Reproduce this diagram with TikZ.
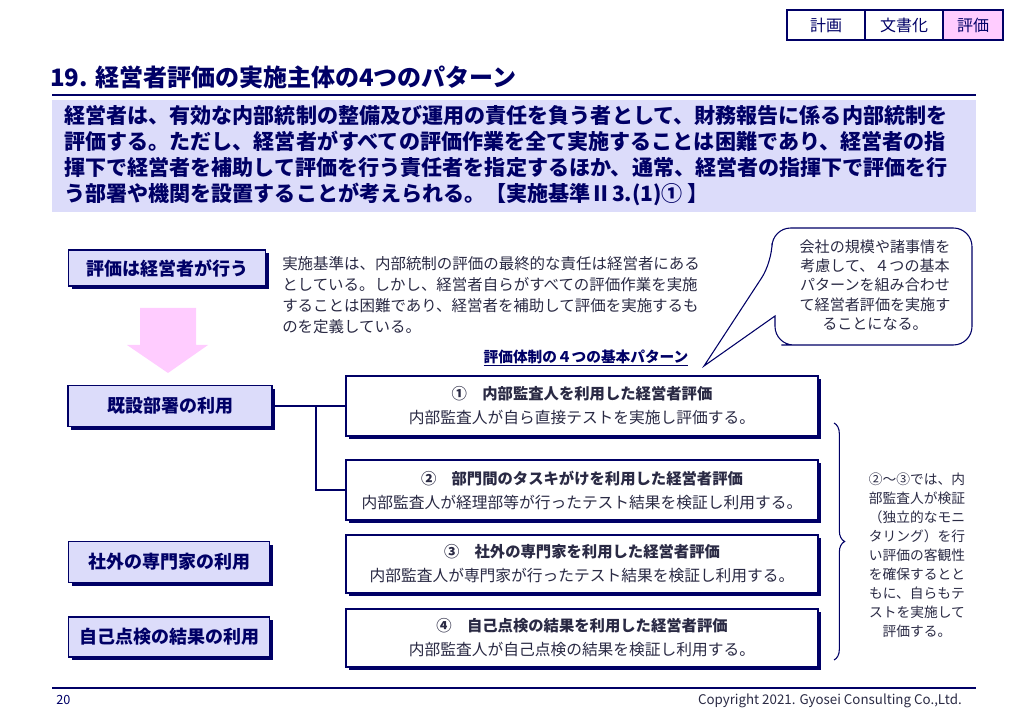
\documentclass[tikz,border=0pt]{standalone}
\usepackage{fontspec}
\setmainfont{Noto Sans CJK JP}
\usetikzlibrary{positioning,shadows,decorations.pathreplacing}
\definecolor{navy}{HTML}{000066}
\definecolor{lav}{HTML}{DCDCFA}
\definecolor{tink}{HTML}{FFCCFF}
\definecolor{txt}{HTML}{2A2A44}
\newcommand{\fs}[1]{\fontsize{#1}{1.35\dimexpr#1pt\relax}\selectfont}
\tikzset{
  sbox/.style={draw=navy, thick, fill=lav, text=navy, font=\fs{13.5}\bfseries,
    drop shadow={shadow xshift=2.5pt, shadow yshift=-2.5pt, fill=navy, opacity=1}},
  pbox/.style={draw=navy, thick, fill=white, align=center, text=txt,
    minimum width=354pt, minimum height=#1,
    drop shadow={shadow xshift=2.5pt, shadow yshift=-2.5pt, fill=navy, opacity=1}},
  tab/.style={draw=navy, thick, minimum height=22.5pt, font=\fs{12}, text=navy},
}
\begin{document}
\begin{tikzpicture}[x=0.75pt, y=-0.75pt]
\useasboundingbox (0,0) rectangle (1024,712);
% tabs
\node[tab, minimum width=58.5pt] (plan) at (826,25) {計画};
\node[tab, minimum width=58.5pt] (doc) at (904,25) {文書化};
\node[tab, minimum width=45pt, fill=tink] (eval) at (973,25) {評価};
% title
\node[anchor=west, text=navy, font=\fs{18}\bfseries, inner sep=0] (title) at (50,77) {19. 経営者評価の実施主体の4つのパターン};
\draw[navy, line width=2pt] (52,95) -- (976,95);
\fill[lav] (52,100) rectangle (976,212);
\node[anchor=north west, text=navy, font=\fontsize{15.8}{19.5}\selectfont\bfseries, align=left, inner sep=0] (lead) at (64,105)
  {経営者は、有効な内部統制の整備及び運用の責任を負う者として、財務報告に係る内部統制を\\
   評価する。ただし、経営者がすべての評価作業を全て実施することは困難であり、経営者の指\\
   揮下で経営者を補助して評価を行う責任者を指定するほか、通常、経営者の指揮下で評価を行\\
   う部署や機関を設置することが考えられる。【実施基準Ⅱ3.(1)① 】};
% left column
\node[sbox, minimum width=148pt, minimum height=27pt] (mgr) at (167,268) {評価は経営者が行う};
\node[anchor=north west, inner sep=0, align=left, text=txt, font=\fontsize{11.6}{15.8}\selectfont] (note) at (282,256)
  {実施基準は、内部統制の評価の最終的な責任は経営者にある\\
   としている。しかし、経営者自らがすべての評価作業を実施\\
   することは困難であり、経営者を補助して評価を実施するも\\
   のを定義している。};
\fill[tink] (140,308) -- (196,308) -- (196,345) -- (208,345) -- (168,373) -- (127,345) -- (140,345) -- cycle;
\node[sbox, minimum width=153pt, minimum height=31pt] (exist) at (170,406) {既設部署の利用};
\node[sbox, minimum width=151pt, minimum height=31pt] (expert) at (169,562) {社外の専門家の利用};
\node[sbox, minimum width=151pt, minimum height=30pt] (self) at (169,637) {自己点検の結果の利用};
% patterns
\node[font=\fs{11}\bfseries, text=navy, inner sep=1pt] (head) at (586,358) {\underline{評価体制の４つの基本パターン}};
\node[pbox=45pt] (p1) at (582,406) {{\fs{11.5}\bfseries ①\quad 内部監査人を利用した経営者評価}\\[6pt]{\fs{11.8}内部監査人が自ら直接テストを実施し評価する。}};
\node[pbox=45pt] (p2) at (582,490) {{\fs{11.5}\bfseries ②\quad 部門間のタスキがけを利用した経営者評価}\\[6pt]{\fs{11.8}内部監査人が経理部等が行ったテスト結果を検証し利用する。}};
\node[pbox=43.5pt] (p3) at (582,564) {{\fs{11.5}\bfseries ③\quad 社外の専門家を利用した経営者評価}\\[6pt]{\fs{11.8}内部監査人が専門家が行ったテスト結果を検証し利用する。}};
\node[pbox=43.5pt] (p4) at (582,638) {{\fs{11.5}\bfseries ④\quad 自己点検の結果を利用した経営者評価}\\[6pt]{\fs{11.8}内部監査人が自己点検の結果を検証し利用する。}};
\draw[navy, thick] (exist.east) -- (p1.west);
\draw[navy, thick] (316,406) |- (p2.west);
% callout
\draw[navy, thick, fill=white, rounded corners=14pt] (800,345) -- (972,345) -- (972,228) -- (772,228) -- (772,262)
  [sharp corners] -- (704,366) -- (775,316) [rounded corners=14pt] -- (775,345) -- cycle;
\node[align=center, text=txt, font=\fontsize{11.3}{14.4}\selectfont, inner sep=0] (bubble) at (875,285)
  {会社の規模や諸事情を\\考慮して、４つの基本\\パターンを組み合わせ\\て経営者評価を実施す\\ることになる。};
% brace
\draw[navy, thick, decorate, decoration={brace, amplitude=8pt}] (834,423) -- (834,660);
\node[align=center, text=txt, font=\fontsize{10.3}{14.3}\selectfont, inner sep=0] (remark) at (917,555)
  {②～③では、内\\部監査人が検証\\（独立的なモニ\\タリング）を行\\い評価の客観性\\を確保するとと\\もに、自らもテ\\ストを実施して\\評価する。};
% footer
\draw[navy, thick] (52,688) -- (976,688);
\node[anchor=west, font=\fs{9.5}, text=navy, inner sep=0] (page) at (56,700) {20};
\node[anchor=east, font=\fs{10}, text=txt, inner sep=0] (copy) at (962,701) {Copyright 2021. Gyosei Consulting Co.,Ltd.};
\end{tikzpicture}
\end{document}
